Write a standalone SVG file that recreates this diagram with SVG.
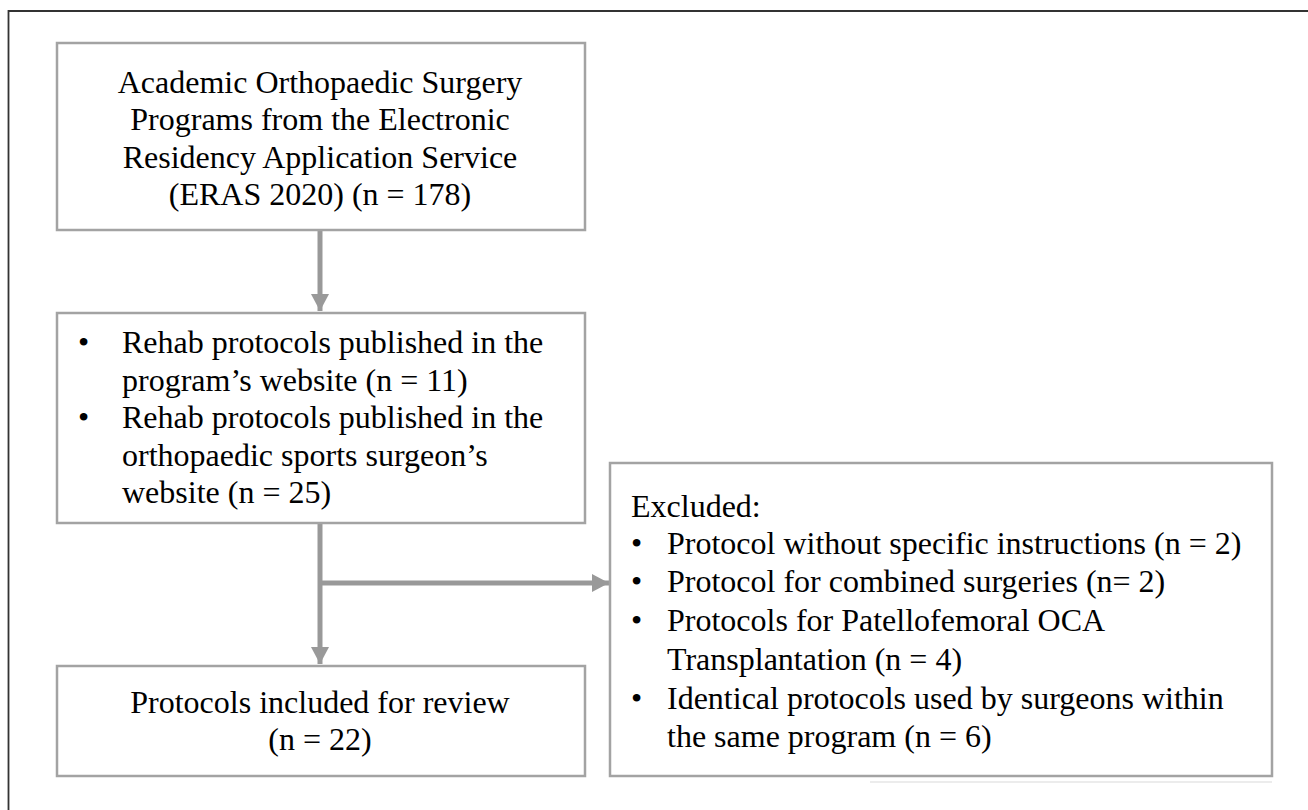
<svg xmlns="http://www.w3.org/2000/svg" width="1308" height="810" viewBox="0 0 1308 810">
<style>
.box{fill:#fff;stroke:#a3a3a3;stroke-width:2.5}
.t{font-family:"Liberation Serif","Times New Roman",serif;font-size:32px;fill:#000}
.c{text-anchor:middle}
.ln{stroke:#999;stroke-width:5;fill:none}
</style>
<defs>
<marker id="ah" markerUnits="userSpaceOnUse" markerWidth="18" markerHeight="18" refX="17" refY="9" orient="auto">
<path d="M0,0 L17,9 L0,18 z" fill="#999"/>
</marker>
</defs>
<rect width="1308" height="810" fill="#fff"/>
<path d="M8.5,810 V11 H1308" fill="none" stroke="#333" stroke-width="1.8"/>
<line x1="870" y1="782" x2="1272" y2="782" stroke="#e6e6e6" stroke-width="1.5"/>
<g id="connectors">
<line class="ln" x1="320" y1="230" x2="320" y2="311" marker-end="url(#ah)"/>
<line class="ln" x1="320" y1="523" x2="320" y2="664" marker-end="url(#ah)"/>
<line class="ln" x1="320" y1="583" x2="609" y2="583" marker-end="url(#ah)"/>
</g>
<g id="n1">
<rect class="box" x="57" y="43" width="528" height="187"/>
<text class="t c" x="320" y="93">Academic Orthopaedic Surgery</text>
<text class="t c" x="320" y="130">Programs from the Electronic</text>
<text class="t c" x="320" y="167.5">Residency Application Service</text>
<text class="t c" x="320" y="205">(ERAS 2020) (n = 178)</text>
</g>
<g id="n2">
<rect class="box" x="57" y="313" width="528" height="210"/>
<text class="t" x="78" y="353">•</text>
<text class="t" x="122" y="353">Rehab protocols published in the</text>
<text class="t" x="122" y="390.5">program’s website (n = 11)</text>
<text class="t" x="78" y="428">•</text>
<text class="t" x="122" y="428">Rehab protocols published in the</text>
<text class="t" x="122" y="465.5">orthopaedic sports surgeon’s</text>
<text class="t" x="122" y="503">website (n = 25)</text>
</g>
<g id="n3">
<rect class="box" x="57" y="666" width="528" height="110"/>
<text class="t c" x="320" y="713">Protocols included for review</text>
<text class="t c" x="320" y="750">(n = 22)</text>
</g>
<g id="n4">
<rect class="box" x="610" y="463" width="662" height="313"/>
<text class="t" x="631" y="517">Excluded:</text>
<text class="t" x="631" y="554">•</text>
<text class="t" x="667" y="554">Protocol without specific instructions (n = 2)</text>
<text class="t" x="631" y="592">•</text>
<text class="t" x="667" y="592">Protocol for combined surgeries (n= 2)</text>
<text class="t" x="631" y="631">•</text>
<text class="t" x="667" y="631">Protocols for Patellofemoral OCA</text>
<text class="t" x="667" y="670">Transplantation (n = 4)</text>
<text class="t" x="631" y="709">•</text>
<text class="t" x="667" y="709">Identical protocols used by surgeons within</text>
<text class="t" x="667" y="747">the same program (n = 6)</text>
</g>
</svg>
